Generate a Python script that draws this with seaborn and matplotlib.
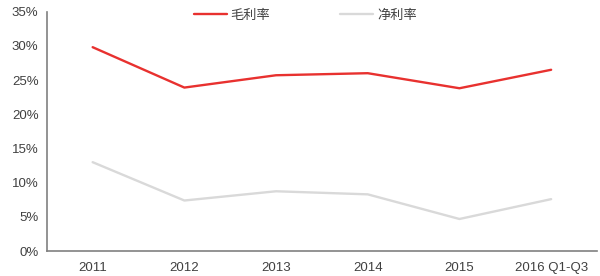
import matplotlib
matplotlib.use("Agg")
import matplotlib.pyplot as plt
import seaborn as sns
import pandas as pd
from matplotlib.ticker import FuncFormatter

years = ["2011", "2012", "2013", "2014", "2015", "2016 Q1-Q3"]
gross_margin = [29.8, 23.9, 25.7, 26.0, 23.8, 26.5]
net_margin = [13.0, 7.4, 8.75, 8.3, 4.7, 7.6]
series_names = ["毛利率", "净利率"]

df = pd.DataFrame({
    "year": years * 2,
    "value": gross_margin + net_margin,
    "series": [series_names[0]] * len(years) + [series_names[1]] * len(years),
})

sns.set_theme(style="white")
plt.rcParams['font.family'] = ['Liberation Sans', 'Noto Sans CJK SC', 'DejaVu Sans']

fig, ax = plt.subplots(figsize=(6.0, 2.76), dpi=100)
fig.subplots_adjust(left=0.078, right=0.995, top=0.958, bottom=0.09)

sns.lineplot(data=df, x="year", y="value", hue="series", sort=False,
             palette={series_names[0]: "#e8312f", series_names[1]: "#d9d9d9"},
             linewidth=1.7, ax=ax)

ax.set_xlim(-0.5, 5.5)
ax.set_ylim(0, 35)
ax.set_yticks(range(0, 36, 5))
ax.yaxis.set_major_formatter(FuncFormatter(lambda v, p: f"{int(v)}%"))
ax.set_xlabel("")
ax.set_ylabel("")
ax.tick_params(axis="both", length=0, labelsize=9.5, colors="#404040")
ax.tick_params(axis="x", pad=8)
ax.tick_params(axis="y", pad=6)
for s in ["top", "right"]:
    ax.spines[s].set_visible(False)
for s in ["left", "bottom"]:
    ax.spines[s].set_color("#808080")
    ax.spines[s].set_linewidth(1.2)

leg = ax.legend(loc="upper center", bbox_to_anchor=(0.47, 1.06), ncol=2, frameon=False,
                fontsize=9.5, handlelength=2.5, columnspacing=5.3, handletextpad=0.3)
for t in leg.get_texts():
    t.set_color("#404040")
    t.set_family(['Noto Sans CJK SC', 'DejaVu Sans'])

fig.savefig("out.png", dpi=100, facecolor="white")
